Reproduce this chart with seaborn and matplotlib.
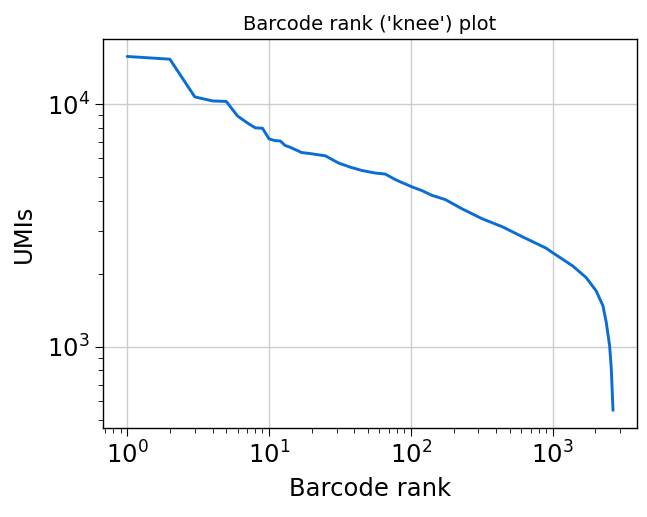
import matplotlib
matplotlib.use("Agg")
import matplotlib.pyplot as plt
import seaborn as sns
import pandas as pd

ranks = [1, 2, 3, 4, 5, 6, 7, 8, 9, 10, 11, 12, 13, 14, 17, 20, 25, 31, 38, 45,
         56, 66, 78, 86, 102, 120, 141, 175, 230, 319, 442, 612, 897, 1000,
         1387, 1722, 2028, 2264, 2388, 2522, 2592, 2665]
umis = [15700, 15300, 10700, 10300, 10250, 8930, 8380, 7980, 7950, 7190, 7070,
        7050, 6750, 6650, 6316, 6240, 6120, 5714, 5483, 5330, 5200, 5150, 4882,
        4760, 4560, 4400, 4208, 4044, 3702, 3370, 3124, 2842, 2553, 2444, 2154,
        1931, 1701, 1476, 1263, 1012, 812, 548]

title = "Barcode rank ('knee') plot"
xlabel = "Barcode rank"
ylabel = "UMIs"

sns.set_style("ticks")
plt.rcParams['font.family'] = ['DejaVu Sans']
plt.rcParams['text.color'] = 'black'
plt.rcParams['axes.labelcolor'] = 'black'
plt.rcParams['xtick.color'] = 'black'
plt.rcParams['ytick.color'] = 'black'

df = pd.DataFrame({"rank": ranks, "umi": umis})

fig = plt.figure(figsize=(6.47, 5.17), dpi=100)
ax = fig.add_axes([0.159, 0.172, 0.826, 0.753])
sns.lineplot(data=df, x="rank", y="umi", ax=ax, color="#0b6dd3", linewidth=2.1)
ax.set_xscale("log")
ax.set_yscale("log")
ax.grid(True, which="major", color="#cccccc", linewidth=1)
ax.set_axisbelow(True)
for s in ax.spines.values():
    s.set_color("black")
    s.set_linewidth(1)
ax.set_title(title, fontsize=14, color="black")
ax.set_xlabel(xlabel, fontsize=17.5, color="black", labelpad=6)
ax.set_ylabel(ylabel, fontsize=17.5, color="black", labelpad=8)
ax.tick_params(axis="both", which="major", labelsize=17.5, length=6,
               color="black", labelcolor="black")
ax.tick_params(axis="both", which="minor", length=3.5, color="black")
fig.savefig("out.png", dpi=100)
